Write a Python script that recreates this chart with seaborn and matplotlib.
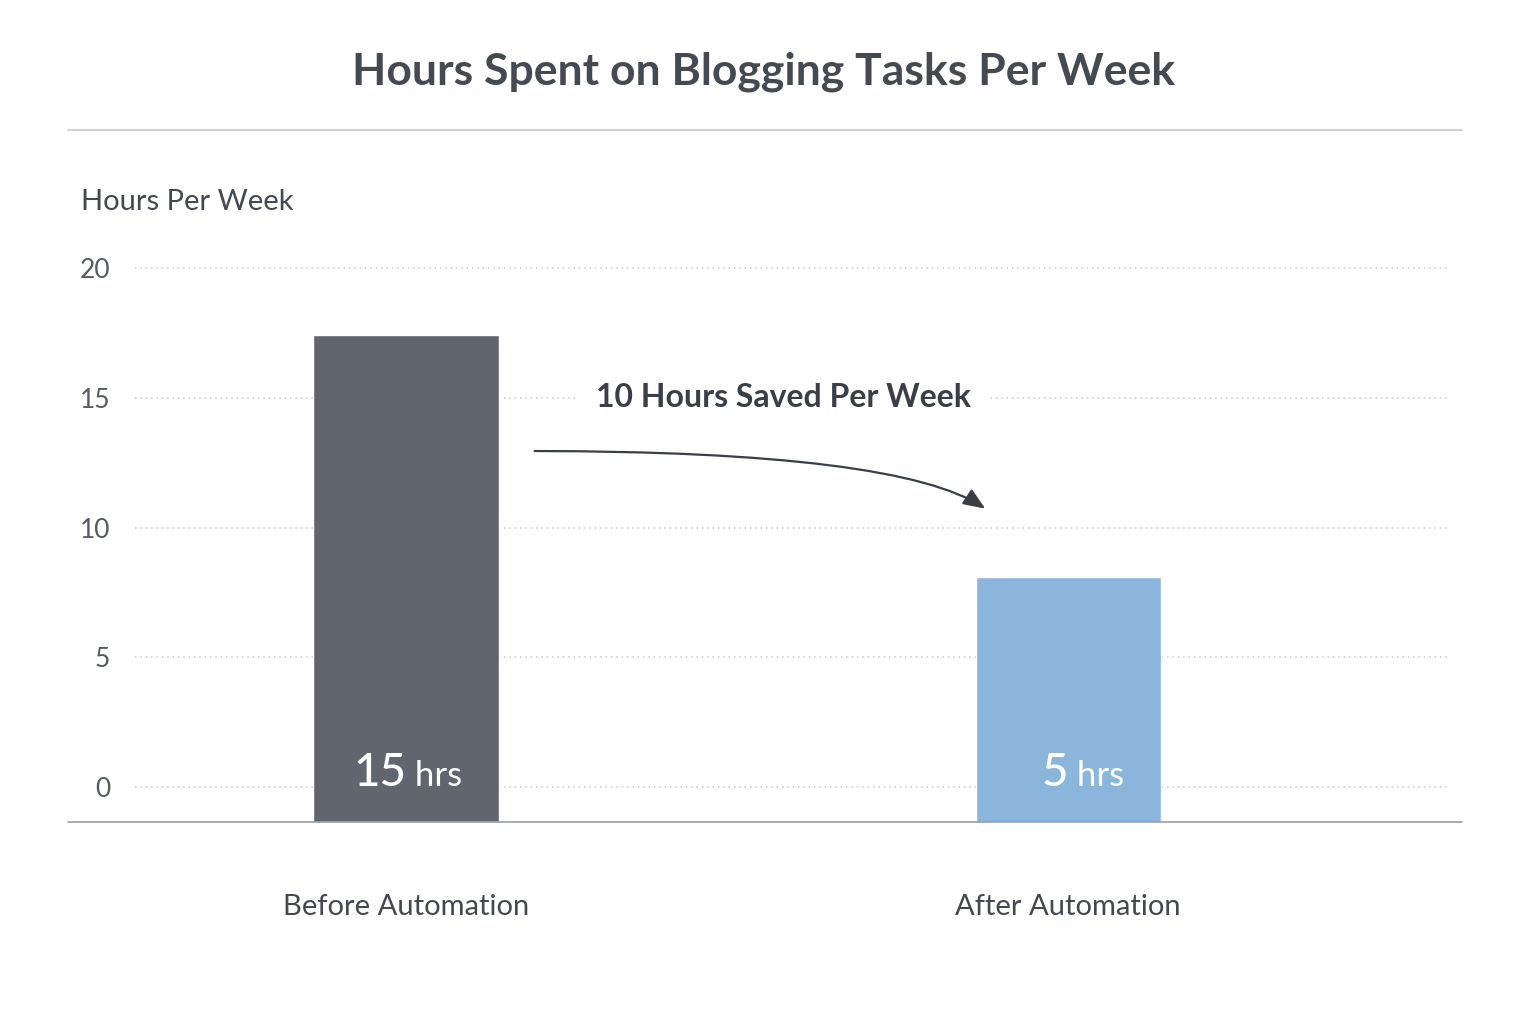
import matplotlib
matplotlib.use("Agg")
import matplotlib.pyplot as plt
import seaborn as sns
import pandas as pd

categories = ["Before Automation", "After Automation"]
bar_heights = [17.4, 8.1]      # bar tops as drawn against the axis
hours_labels = ["15", "5"]
colors = ["#5f6470", "#7fb5e8"]
yticks = [0, 5, 10, 15, 20]

sns.set_theme(style="white")
plt.rcParams['font.family'] = ['Lato', 'DejaVu Sans']

fig = plt.figure(figsize=(15.36, 10.24), dpi=100)
fig.patch.set_facecolor("white")
ax = fig.add_axes([0.088, 0.197, 0.855, 0.592])
df = pd.DataFrame({"cat": categories, "h": bar_heights})
sns.barplot(data=df, x="cat", y="h", hue="cat", palette=colors, width=0.28,
            legend=False, ax=ax, zorder=3)
base = -1.35
for p in ax.patches:
    h = p.get_height()
    p.set_y(base)
    p.set_height(h - base)
ax.set_ylim(base, 22)
ax.set_xlim(-0.409, 1.574)
ax.set_yticks(yticks)
ax.set_yticklabels([str(v) for v in yticks], fontsize=19, color="#555a63")
ax.tick_params(axis="y", length=0, pad=18)
ax.tick_params(axis="x", length=0)
ax.set_xticks([])
ax.set_xlabel(""); ax.set_ylabel("")
for s in ax.spines.values():
    s.set_visible(False)
for v in yticks:
    ax.axhline(v, color="#c4c7cc", lw=1.1, ls=(0, (1, 2.5)), zorder=1)

for i, (lab, c) in enumerate(zip(hours_labels, categories)):
    ax.text(i, 0.55, lab, ha="right", va="center", fontsize=33, color="white",
            fontweight="medium", zorder=5)
    ax.text(i, 0.45, " hrs", ha="left", va="center", fontsize=25, color="white", zorder=5)
    ax.text(i, -4.6, c, ha="center", va="center", fontsize=21, color="#444851",
            clip_on=False)

ax.text(0.57, 15.0, "10 Hours Saved Per Week", ha="center", va="center",
        fontsize=23, fontweight="bold", color="#3a3e47", zorder=4,
        bbox=dict(facecolor="white", edgecolor="none", pad=12))
ax.annotate("", xy=(0.878, 10.67), xytext=(0.19, 12.95),
            arrowprops=dict(arrowstyle="-|>,head_length=1.1,head_width=0.45",
                            color="#3a3e47", lw=1.6,
                            connectionstyle="angle3,angleA=0,angleB=-35"), zorder=4)

fig.add_artist(plt.Line2D([0.044, 0.952], [1-822/1024]*2, color="#9a9da3", lw=1.2))
fig.add_artist(plt.Line2D([0.044, 0.952], [1-130/1024]*2, color="#c8cacd", lw=1.2))
fig.text(0.497, 1-72/1024, "Hours Spent on Blogging Tasks Per Week", ha="center",
         va="center", fontsize=32, fontweight="bold", color="#454952")
fig.text(0.053, 1-202/1024, "Hours Per Week", ha="left", va="center",
         fontsize=21, color="#444851")
fig.savefig("out.png", dpi=100, facecolor="white")
